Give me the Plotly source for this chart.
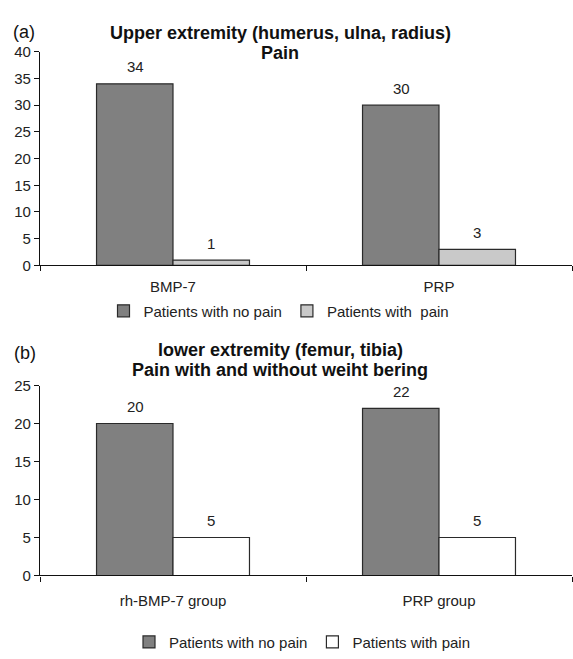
import plotly.graph_objects as go

# Data
cats_a = ["BMP-7", "PRP"]
no_pain_a = [34, 30]
pain_a = [1, 3]

cats_b = ["rh-BMP-7 group", "PRP group"]
no_pain_b = [20, 22]
pain_b = [5, 5]

yticks_a = [0, 5, 10, 15, 20, 25, 30, 35, 40]
yticks_b = [0, 5, 10, 15, 20, 25]

FONT = "Liberation Sans, Arial, sans-serif"
DARK = "#808080"
LIGHT = "#c9c9c9"
EDGE = "#2a2a2a"

fig = go.Figure()
fig.add_bar(x=cats_a, y=no_pain_a, name="Patients with no pain",
            marker=dict(color=DARK, line=dict(color=EDGE, width=1.2)),
            xaxis="x", yaxis="y", legend="legend")
fig.add_bar(x=cats_a, y=pain_a, name="Patients with\u00a0 pain",
            marker=dict(color=LIGHT, line=dict(color=EDGE, width=1.2)),
            xaxis="x", yaxis="y", legend="legend")
fig.add_bar(x=cats_b, y=no_pain_b, name="Patients with no pain",
            marker=dict(color=DARK, line=dict(color=EDGE, width=1.2)),
            xaxis="x2", yaxis="y2", legend="legend2")
fig.add_bar(x=cats_b, y=pain_b, name="Patients with pain",
            marker=dict(color="#ffffff", line=dict(color=EDGE, width=1.2)),
            xaxis="x2", yaxis="y2", legend="legend2")

annotations = []
def add_labels(cats, vals, xref, yref, shift):
    for c, v in zip(cats, vals):
        annotations.append(dict(x=c, y=v, xref=xref, yref=yref, text=str(v),
                                showarrow=False, xshift=shift, yshift=17,
                                yanchor="middle",
                                font=dict(family=FONT, size=15, color="#222")))

add_labels(cats_a, no_pain_a, "x", "y", -38)
add_labels(cats_a, pain_a, "x", "y", 38)
add_labels(cats_b, no_pain_b, "x2", "y2", -38)
add_labels(cats_b, pain_b, "x2", "y2", 38)

H = 659
W = 573
def py(p):
    return 1 - p / H

titles = [
    ("<b>Upper extremity (humerus, ulna, radius)</b>", 280, 25),
    ("<b>Pain</b>", 280, 45),
    ("<b>lower extremity (femur, tibia)</b>", 280, 351),
    ("<b>Pain with and without weiht bering</b>", 280, 372),
]
for t, x, y in titles:
    annotations.append(dict(text=t, x=x / W, y=py(y), xref="paper", yref="paper",
                            showarrow=False, xanchor="center", yanchor="middle",
                            font=dict(family=FONT, size=18, color="#111")))
for t, x, y in [("(a)", 24, 24), ("(b)", 25, 354)]:
    annotations.append(dict(text=t, x=x / W, y=py(y), xref="paper", yref="paper",
                            showarrow=False, xanchor="center", yanchor="middle",
                            font=dict(family=FONT, size=18, color="#111")))

axis_common = dict(showline=True, linecolor="#111", linewidth=1.2,
                   showgrid=False, zeroline=False, ticks="outside",
                   ticklen=5, tickcolor="#111", tickwidth=1.2,
                   tickfont=dict(family=FONT, size=15, color="#222"))

x0, x1 = 40 / W, 572 / W
fig.update_layout(
    width=W, height=H,
    margin=dict(l=0, r=0, t=0, b=0),
    paper_bgcolor="white", plot_bgcolor="white",
    barmode="group", bargap=0.425, bargroupgap=0,
    font=dict(family=FONT, color="#222"),
    xaxis=dict(domain=[x0, x1], anchor="y", tickson="boundaries",
               ticklabelstandoff=8, **axis_common),
    yaxis=dict(domain=[py(264), py(44)], anchor="x", range=[0, 40],
               tickvals=yticks_a, **axis_common),
    xaxis2=dict(domain=[x0, x1], anchor="y2", tickson="boundaries",
                ticklabelstandoff=11, **axis_common),
    yaxis2=dict(domain=[py(583.3), py(387.7)], anchor="x2", range=[0, 25],
                tickvals=yticks_b, **axis_common),
    legend=dict(orientation="h", x=279 / W, y=py(311), xanchor="center",
                yanchor="middle", font=dict(family=FONT, size=15, color="#222"),
                itemwidth=30, bgcolor="rgba(0,0,0,0)"),
    legend2=dict(orientation="h", x=302 / W, y=py(652), xanchor="center",
                 yanchor="middle", font=dict(family=FONT, size=15, color="#222"),
                 itemwidth=30, bgcolor="rgba(0,0,0,0)"),
    annotations=annotations,
    showlegend=True,
)

post = ("document.body.style.margin='0';"
        "var d=document.getElementById('{plot_id}');"
        "d.style.position='fixed';d.style.top='0';d.style.left='0';")

fig.write_html("out.html", config={"displayModeBar": False}, post_script=post)
